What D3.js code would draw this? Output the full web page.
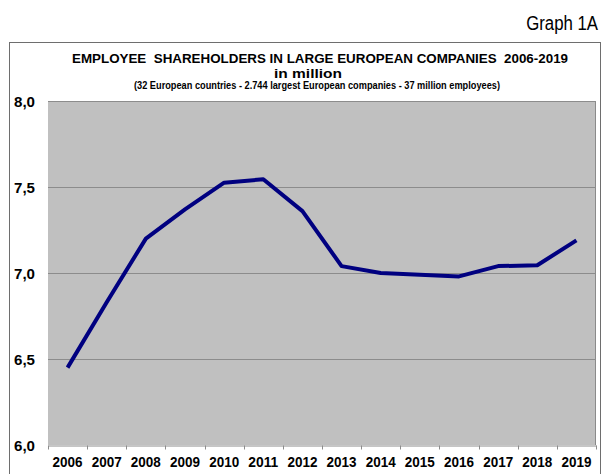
<!DOCTYPE html>
<html>
<head>
<meta charset="utf-8">
<script src="https://cdn.jsdelivr.net/npm/d3@7"></script>
<style>
    body { margin: 0; background: #fff; }
    svg { display: block; }
    text { font-family: "Liberation Sans", Arial, sans-serif; fill: #000; }
</style>
</head>
<body>
<script>
// data
const years = ["2006", "2007", "2008", "2009", "2010", "2011", "2012",
               "2013", "2014", "2015", "2016", "2017", "2018", "2019"];
const shareholders = [6.45, 6.83, 7.20, 7.37, 7.525, 7.545, 7.36,
                      7.04, 7.00, 6.99, 6.98, 7.04, 7.045, 7.19];
const yTicks = [6.0, 6.5, 7.0, 7.5, 8.0];

const width = 605, height = 474;
const plot = {left: 48, right: 596, top: 101, bottom: 445};

const svg = d3.select('body').append('svg')
    .attr("width", width)
    .attr("height", height);

// outer frame
svg.append("rect")
    .attr("x", 9.5).attr("y", 42.5)
    .attr("width", 591).attr("height", 450)
    .attr("fill", "#fff")
    .attr("stroke", "#6e6e6e");

// narrow-looking label: squeeze horizontally instead of textLength
svg.append("text")
    .attr("transform", "translate(598,30) scale(0.8,1)")
    .attr("text-anchor", "end")
    .style("font-size", "21px")
    .text("Graph 1A");

const x = d3.scaleBand()
    .domain(years)
    .range([plot.left, plot.right])
    .padding(0);

const y = d3.scaleLinear()
    .domain([6, 8])
    .range([plot.bottom, plot.top]);

// plot area
svg.append("rect")
    .attr("x", plot.left).attr("y", plot.top)
    .attr("width", plot.right - plot.left)
    .attr("height", plot.bottom - plot.top)
    .attr("fill", "#c0c0c0");

svg.append("line")
    .attr("x1", plot.right - 0.5).attr("x2", plot.right - 0.5)
    .attr("y1", plot.top).attr("y2", plot.bottom)
    .attr("stroke", "#8a8a8a");

// gridlines
svg.append("g")
    .selectAll("line")
    .data(yTicks.filter(d => d > 6))
    .join("line")
    .attr("x1", plot.left).attr("x2", plot.right)
    .attr("y1", d => Math.round(y(d)) + 0.5)
    .attr("y2", d => Math.round(y(d)) + 0.5)
    .attr("stroke", "#8c8c8c");

// y labels
svg.append("g")
    .selectAll("text")
    .data(yTicks)
    .join("text")
    .attr("x", 35)
    .attr("y", d => y(d) + 5.5)
    .attr("text-anchor", "end")
    .style("font-size", "15px")
    .style("font-weight", "bold")
    .attr("textLength", 21)
    .attr("lengthAdjust", "spacingAndGlyphs")
    .text(d => d3.format(".1f")(d).replace(".", ","));

// x axis
const xAxis = d3.axisBottom(x).tickSize(0).tickFormat("");
const gx = svg.append("g")
    .attr("transform", `translate(0,${plot.bottom + 0.5})`)
    .call(xAxis);
gx.select(".domain").attr("stroke", "#8c8c8c");

const bounds = years.map(d => x(d)).concat([plot.right]);
gx.selectAll(".sep")
    .data(bounds)
    .join("line")
    .attr("class", "sep")
    .attr("x1", d => Math.round(d) + 0.5).attr("x2", d => Math.round(d) + 0.5)
    .attr("y1", 0).attr("y2", 4)
    .attr("stroke", "#8c8c8c");

svg.append("g")
    .selectAll("text")
    .data(years)
    .join("text")
    .attr("x", d => x(d) + x.bandwidth() / 2)
    .attr("y", 467)
    .attr("text-anchor", "middle")
    .style("font-size", "15px")
    .style("font-weight", "bold")
    .attr("textLength", 30)
    .attr("lengthAdjust", "spacingAndGlyphs")
    .text(d => d);

// the series
const line = d3.line()
    .x((d, i) => x(years[i]) + x.bandwidth() / 2)
    .y(d => y(d));

svg.append("path")
    .datum(shareholders)
    .attr("d", line)
    .attr("fill", "none")
    .attr("stroke", "#000080")
    .attr("stroke-width", 4)
    .attr("stroke-linejoin", "round");

// titles
svg.append("text")
    .attr("x", 320).attr("y", 63)
    .attr("text-anchor", "middle")
    .style("font-size", "13.5px")
    .style("font-weight", "bold")
    .style("white-space", "pre")
    .attr("textLength", 496)
    .attr("lengthAdjust", "spacingAndGlyphs")
    .text("EMPLOYEE  SHAREHOLDERS IN LARGE EUROPEAN COMPANIES  2006-2019");

svg.append("text")
    .attr("x", 308).attr("y", 78)
    .attr("text-anchor", "middle")
    .style("font-size", "13px")
    .style("font-weight", "bold")
    .attr("textLength", 68)
    .attr("lengthAdjust", "spacingAndGlyphs")
    .text("in million");

svg.append("text")
    .attr("x", 317).attr("y", 89)
    .attr("text-anchor", "middle")
    .style("font-size", "10px")
    .style("font-weight", "bold")
    .attr("textLength", 366)
    .attr("lengthAdjust", "spacingAndGlyphs")
    .text("(32 European countries - 2.744 largest European companies - 37 million employees)");
</script>
</body>
</html>
